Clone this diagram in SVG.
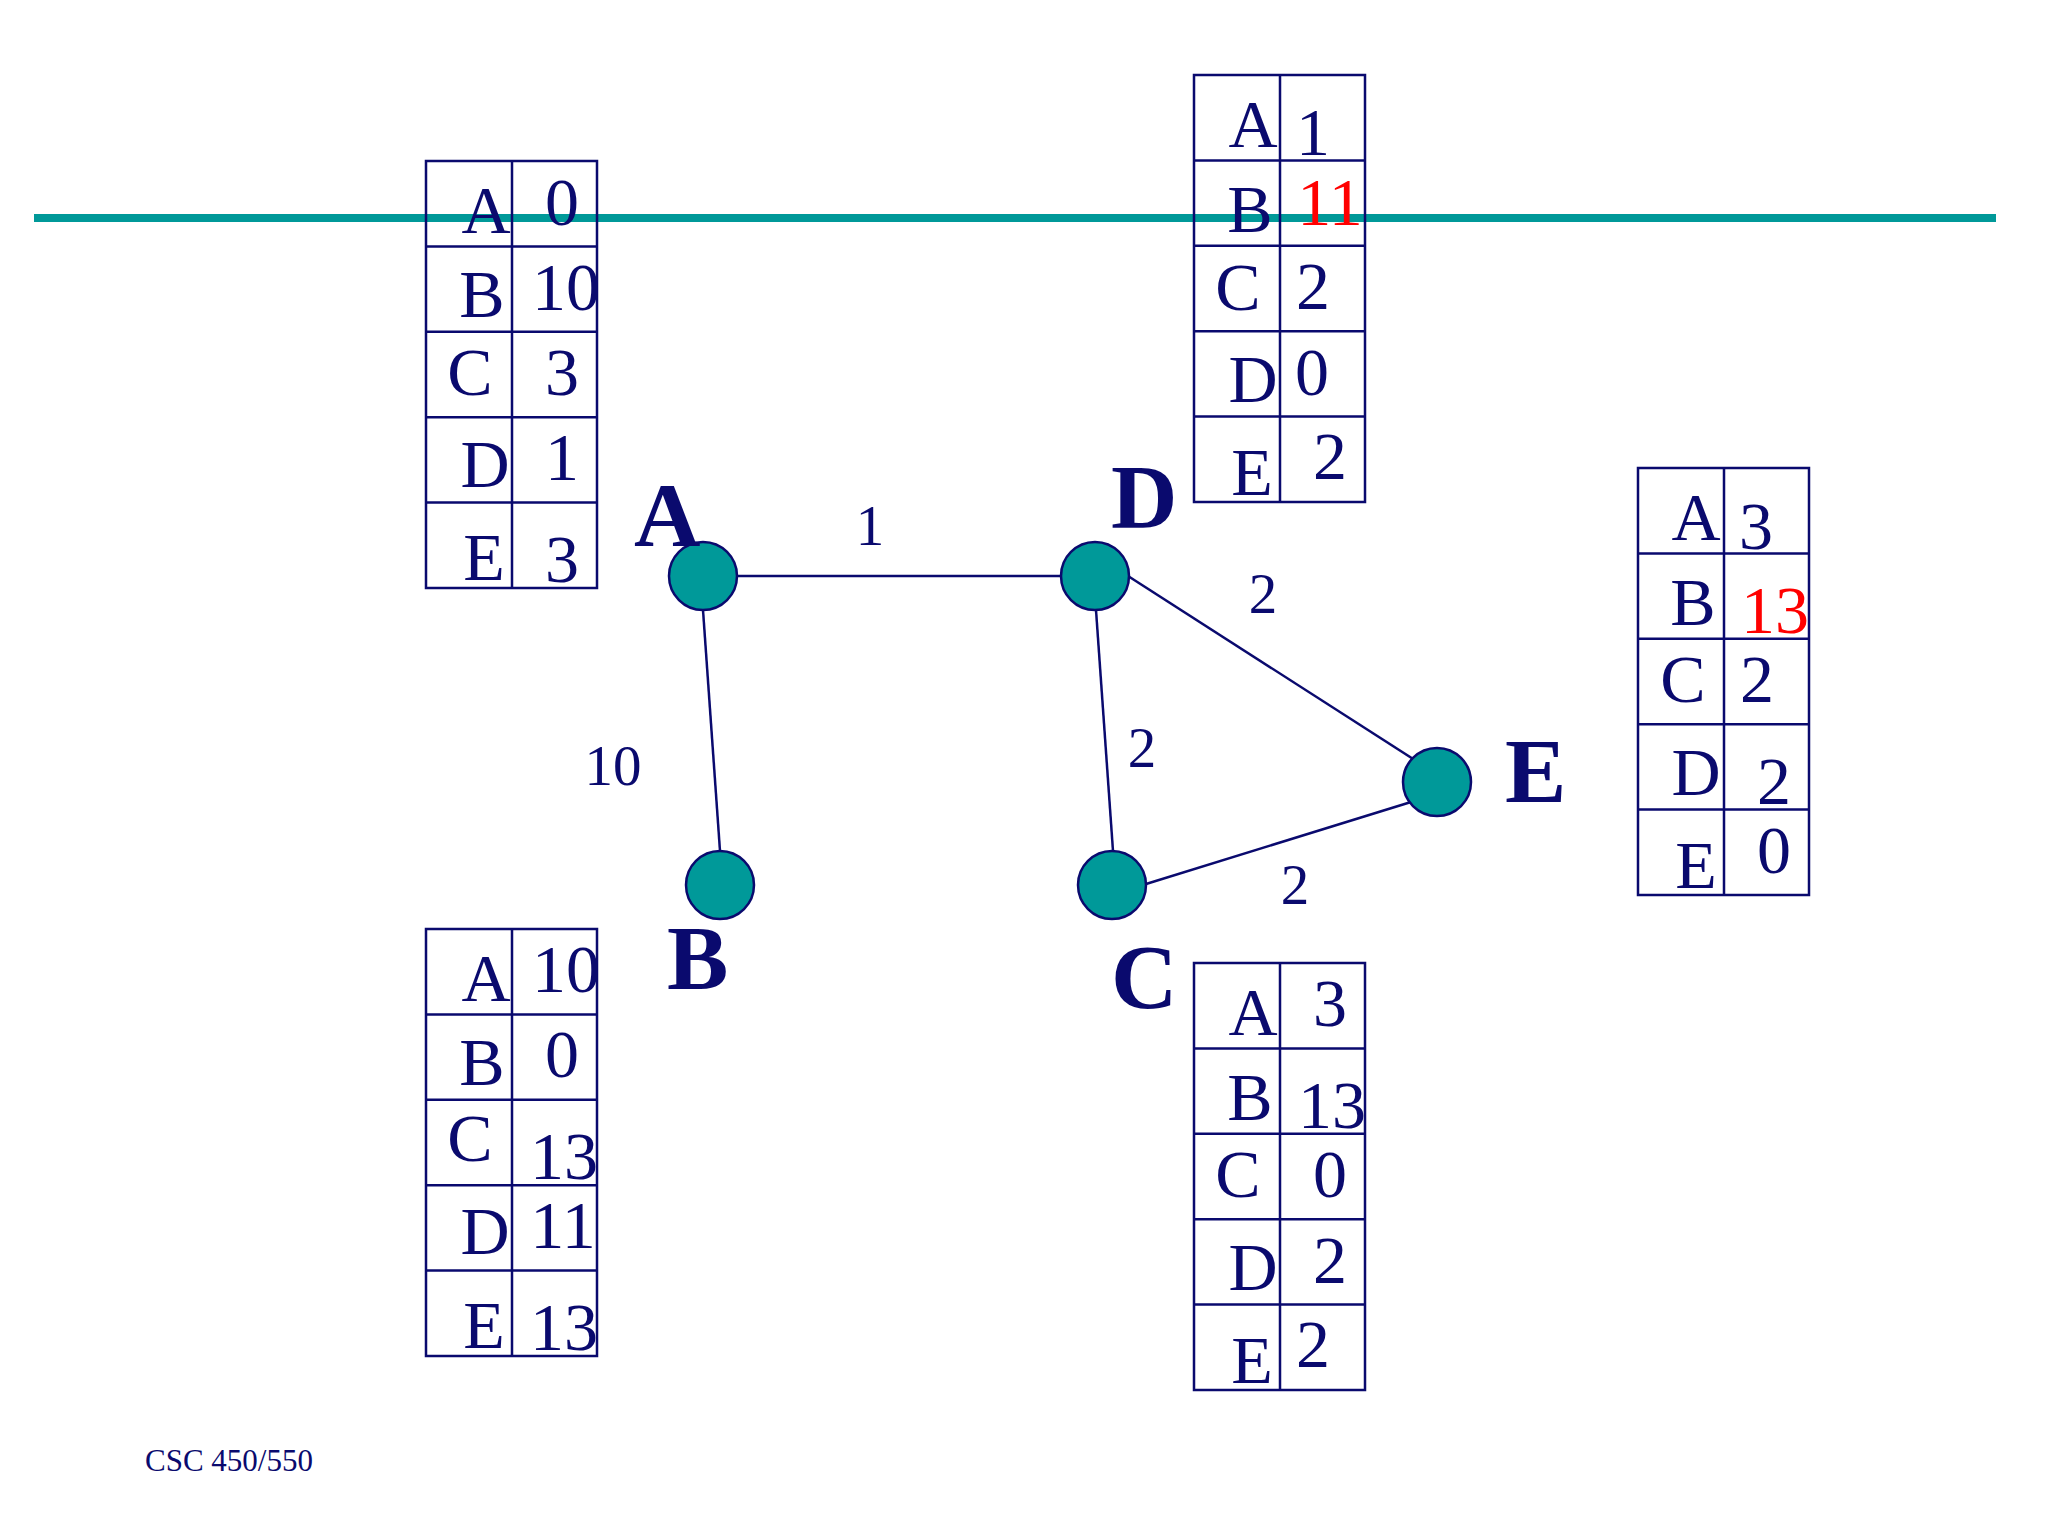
<svg xmlns="http://www.w3.org/2000/svg" width="2048" height="1536" viewBox="0 0 2048 1536">
<style>
.bg{fill:#ffffff}
.rule{stroke:#009999;stroke-width:8;fill:none}
.cell{fill:none;stroke:#0a0a6e;stroke-width:2.5}
.edge{stroke:#0a0a6e;stroke-width:2.5;fill:none}
.node{fill:#009999;stroke:#0a0a6e;stroke-width:2.5}
.t{font-family:"Liberation Serif","Times New Roman",serif;fill:#0a0a6e;font-size:68px;text-anchor:middle}
.red{fill:#ff0000}
.nl{font-family:"Liberation Serif","Times New Roman",serif;fill:#0a0a6e;font-size:92px;font-weight:bold}
.el{font-family:"Liberation Serif","Times New Roman",serif;fill:#0a0a6e;font-size:57px;text-anchor:middle}
.ft{font-family:"Liberation Serif","Times New Roman",serif;fill:#0a0a6e;font-size:31px}
</style>
<defs>
<g id="grid">
<rect class="cell" x="0" y="0" width="171" height="427"/>
<line class="cell" x1="86" y1="0" x2="86" y2="427"/>
<line class="cell" x1="0" y1="85.4" x2="171" y2="85.4"/>
<line class="cell" x1="0" y1="170.8" x2="171" y2="170.8"/>
<line class="cell" x1="0" y1="256.2" x2="171" y2="256.2"/>
<line class="cell" x1="0" y1="341.6" x2="171" y2="341.6"/>
</g>
</defs>
<rect class="bg" x="0" y="0" width="2048" height="1536"/>
<line class="rule" x1="34" y1="218" x2="1996" y2="218"/>

<g id="connectors">
<line class="edge" x1="737" y1="576" x2="1061" y2="576"/>
<line class="edge" x1="703" y1="610" x2="720" y2="851"/>
<line class="edge" x1="1096" y1="610" x2="1113" y2="851"/>
<line class="edge" x1="1128" y1="576" x2="1421" y2="764"/>
<line class="edge" x1="1146" y1="884" x2="1424" y2="798"/>
<text class="el" x="870" y="545">1</text>
<text class="el" x="613" y="785">10</text>
<text class="el" x="1263" y="613">2</text>
<text class="el" x="1142" y="767">2</text>
<text class="el" x="1295" y="904">2</text>
</g>

<g id="node-A">
<circle class="node" cx="703" cy="576" r="34"/>
<text class="nl" x="634" y="546">A</text>
</g>
<g id="node-D">
<circle class="node" cx="1095" cy="576" r="34"/>
<text class="nl" x="1111" y="528">D</text>
</g>
<g id="node-B">
<circle class="node" cx="720" cy="885" r="34"/>
<text class="nl" x="667" y="989">B</text>
</g>
<g id="node-C">
<circle class="node" cx="1112" cy="885" r="34"/>
<text class="nl" x="1111" y="1008">C</text>
</g>
<g id="node-E">
<circle class="node" cx="1437" cy="782" r="34"/>
<text class="nl" x="1505" y="802">E</text>
</g>

<g id="table-A">
<use href="#grid" x="426" y="161"/>
<text class="t" x="486" y="233">A</text><text class="t" x="562" y="225">0</text>
<text class="t" x="482" y="317">B</text><text class="t" x="566" y="310">10</text>
<text class="t" x="470" y="395">C</text><text class="t" x="562" y="395">3</text>
<text class="t" x="485" y="487">D</text><text class="t" x="562" y="480">1</text>
<text class="t" x="484" y="580">E</text><text class="t" x="562" y="582">3</text>
</g>

<g id="table-D">
<use href="#grid" x="1194" y="75"/>
<text class="t" x="1253" y="147">A</text><text class="t" x="1313" y="155">1</text>
<text class="t" x="1250" y="232">B</text><text class="t red" x="1330" y="225">11</text>
<text class="t" x="1238" y="310">C</text><text class="t" x="1313" y="309">2</text>
<text class="t" x="1253" y="402">D</text><text class="t" x="1312" y="395">0</text>
<text class="t" x="1252" y="495">E</text><text class="t" x="1330" y="479">2</text>
</g>

<g id="table-E">
<use href="#grid" x="1638" y="468"/>
<text class="t" x="1696" y="540">A</text><text class="t" x="1756" y="549">3</text>
<text class="t" x="1693" y="625">B</text><text class="t red" x="1775" y="633">13</text>
<text class="t" x="1683" y="702">C</text><text class="t" x="1757" y="702">2</text>
<text class="t" x="1696" y="795">D</text><text class="t" x="1774" y="804">2</text>
<text class="t" x="1696" y="888">E</text><text class="t" x="1774" y="873">0</text>
</g>

<g id="table-C">
<use href="#grid" x="1194" y="963"/>
<text class="t" x="1253" y="1035">A</text><text class="t" x="1330" y="1026">3</text>
<text class="t" x="1250" y="1120">B</text><text class="t" x="1332" y="1128">13</text>
<text class="t" x="1238" y="1197">C</text><text class="t" x="1330" y="1197">0</text>
<text class="t" x="1253" y="1290">D</text><text class="t" x="1330" y="1283">2</text>
<text class="t" x="1252" y="1383">E</text><text class="t" x="1313" y="1367">2</text>
</g>

<g id="table-B">
<use href="#grid" x="426" y="929"/>
<text class="t" x="486" y="1001">A</text><text class="t" x="566" y="992">10</text>
<text class="t" x="482" y="1085">B</text><text class="t" x="562" y="1077">0</text>
<text class="t" x="470" y="1161">C</text><text class="t" x="564" y="1179">13</text>
<text class="t" x="485" y="1254">D</text><text class="t" x="563" y="1248">11</text>
<text class="t" x="484" y="1348">E</text><text class="t" x="564" y="1350">13</text>
</g>

<text class="ft" x="145" y="1471">CSC 450/550</text>
</svg>
